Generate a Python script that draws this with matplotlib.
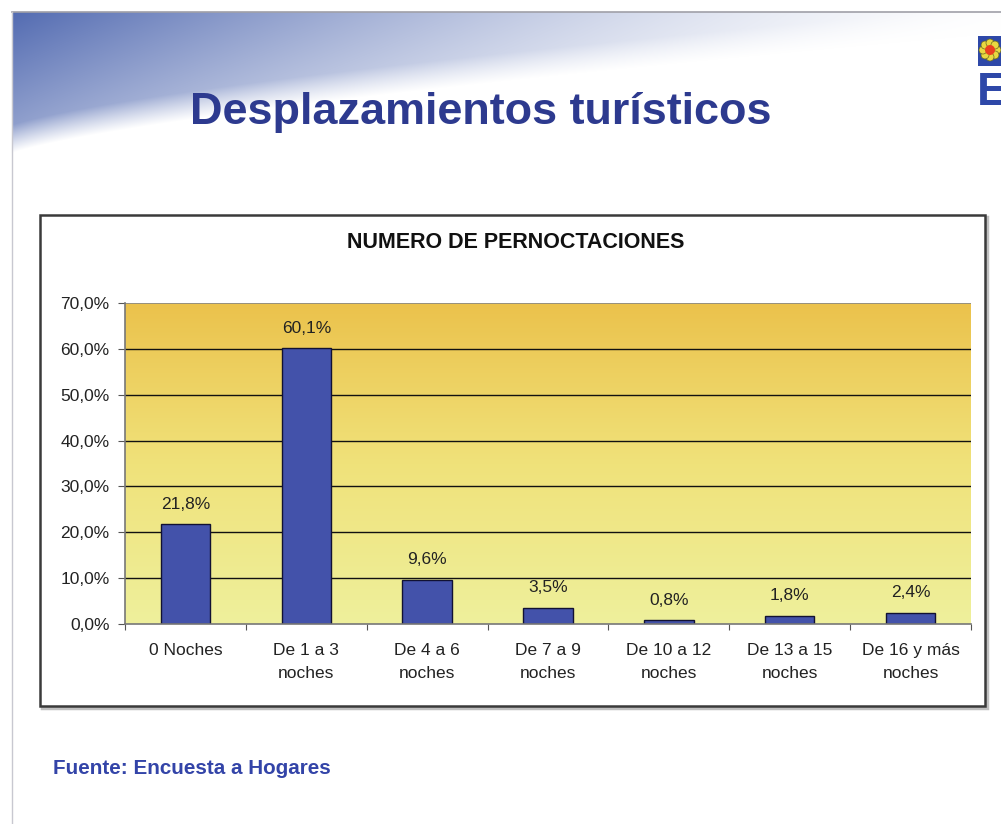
import numpy as np
import matplotlib.pyplot as plt
from matplotlib.patches import Rectangle, Circle
from matplotlib.colors import LinearSegmentedColormap
from matplotlib import font_manager

# -----------------------------------------------------------------------------
categorias = ['0 Noches', 'De 1 a 3\nnoches', 'De 4 a 6\nnoches', 'De 7 a 9\nnoches',
              'De 10 a 12\nnoches', 'De 13 a 15\nnoches', 'De 16 y más\nnoches']
porcentajes = [21.8, 60.1, 9.6, 3.5, 0.8, 1.8, 2.4]
ticks_y = [0, 10, 20, 30, 40, 50, 60, 70]

W, H = 1001, 824
AZUL = '#2d3a8f'
plt.rcParams['font.family'] = ['Liberation Sans', 'DejaVu Sans']


def fuente_estrecha():
    # use a narrow face for the heading when one is installed
    try:
        font_manager.findfont(font_manager.FontProperties(family='Liberation Sans Narrow'),
                              fallback_to_default=False)
        return ['Liberation Sans Narrow', 'Liberation Sans']
    except Exception:
        return ['Liberation Sans']


fig = plt.figure(figsize=(W / 100, H / 100), dpi=100)
fig.patch.set_facecolor('white')


def px_axes(left, top, right, bottom, **kw):
    # axes placed with pixel coordinates measured from the top-left corner
    return fig.add_axes([left / W, 1 - bottom / H, (right - left) / W, (bottom - top) / H], **kw)


def ajustar_ancho(txt, ancho):
    # scale the font size so the text spans the given width in pixels
    r = fig.canvas.get_renderer()
    w = txt.get_window_extent(renderer=r).width
    txt.set_fontsize(txt.get_fontsize() * ancho / w)


# fondo de la diapositiva: barrido azul arriba a la izquierda
bg = px_axes(0, 0, W, H)
bg.set_xlim(0, W)
bg.set_ylim(H, 0)
bg.axis('off')

xx, yy = np.meshgrid(np.arange(W), np.arange(200))
borde = 158 - 125 * (xx / W) ** 0.7
alfa = np.clip((borde - yy) / 28.0, 0, 1) * np.clip(1 - xx / 1050, 0, 1) ** 1.5
alfa = alfa * np.clip(0.55 + 0.45 * (1 - yy / borde), 0, 1)
azul = np.array([0.29, 0.39, 0.68])
img = np.ones((200, W, 3)) * (1 - alfa[..., None]) + azul * alfa[..., None]
img[:12, :, :] = 1
img[:, :12, :] = 1
bg.imshow(img, extent=(0, W, 200, 0), aspect='auto', zorder=0)
bg.plot([12, W], [12, 12], color='#a0a0a8', lw=1.2, zorder=1)
bg.plot([12, 12], [12, H], color='#c8c8d0', lw=1.0, zorder=1)

# titulo principal
titulo = bg.text(190, 124, 'Desplazamientos turísticos', fontsize=36, fontweight='bold',
                 family=fuente_estrecha(), color=AZUL, ha='left', va='baseline', zorder=3)
ajustar_ancho(titulo, 582)

# logotipo (parcial, cortado por el borde derecho)
bg.add_patch(Rectangle((978, 36), 30, 30, facecolor='#2e48a8', edgecolor='none', zorder=3))
for ang in np.linspace(0, 2 * np.pi, 8, endpoint=False):
    bg.add_patch(Circle((990 + 7 * np.cos(ang), 50 + 7 * np.sin(ang)), 4,
                        facecolor='#e8d840', edgecolor='#6a6a20', lw=0.5, zorder=4))
bg.add_patch(Circle((990, 50), 5, facecolor='#e84020', edgecolor='none', zorder=5))
bg.text(977, 105, 'E', fontsize=34, fontweight='bold', color='#2e48a8', ha='left', va='baseline',
        zorder=3)

# recuadro del grafico
bg.add_patch(Rectangle((42, 217), 945, 491, facecolor='none', edgecolor='#c0c0c0', lw=2.5, zorder=2))
bg.add_patch(Rectangle((40, 215), 945, 491, facecolor='white', edgecolor='#3a3a3a', lw=1.8, zorder=2))
sub = bg.text(347, 242, 'NUMERO DE PERNOCTACIONES', fontsize=13, fontweight='bold',
              ha='left', va='center', color='#111111', zorder=3)
ajustar_ancho(sub, 340)

fuente = bg.text(53, 768, 'Fuente: Encuesta a Hogares', fontsize=13, fontweight='bold',
                 color='#3344a8', ha='left', va='center', zorder=3)
ajustar_ancho(fuente, 277)

# area de trazado
ax = px_axes(125, 303, 971, 624)
n = len(categorias)
x = np.arange(n)
ax.set_xlim(-0.5, n - 0.5)
ax.set_ylim(0, 70)

grad = LinearSegmentedColormap.from_list('fondo', ['#eef09c', '#f0e27a', '#ebc24c'])
ax.imshow(np.linspace(0, 1, 256)[:, None], cmap=grad, origin='lower', aspect='auto',
          extent=(-0.5, n - 0.5, 0, 70), zorder=0)

for t in ticks_y[1:-1]:
    ax.axhline(t, color='#111111', lw=1.0, zorder=1)
ax.axhline(70, color='#888888', lw=1.2, zorder=1)

ax.bar(x, porcentajes, width=0.41, color='#4352aa', edgecolor='#111133', lw=1.0, zorder=2)
for xi, v in zip(x, porcentajes):
    ax.annotate(f'{v:.1f}%'.replace('.', ','), (xi, v), xytext=(0, 9), textcoords='offset points',
                ha='center', va='bottom', fontsize=12.5, color='#222222')

ax.set_yticks(ticks_y)
ax.set_yticklabels([f'{t:.1f}%'.replace('.', ',') for t in ticks_y], fontsize=12.5, color='#222222')
ax.set_xticks(np.arange(n + 1) - 0.5, minor=False)
ax.set_xticklabels([])
ax.set_xticks(x, minor=True)
ax.set_xticklabels(categorias, minor=True, fontsize=12.5, color='#222222', linespacing=1.65)
ax.tick_params(axis='x', which='minor', length=0, pad=14)
ax.tick_params(axis='x', which='major', length=4, color='#555555', direction='out')
ax.tick_params(axis='y', length=5, color='#555555', pad=6)

for s in ['top', 'right']:
    ax.spines[s].set_visible(False)
ax.spines['left'].set_color('#777777')
ax.spines['bottom'].set_color('#777777')
ax.spines['left'].set_linewidth(1.2)
ax.spines['bottom'].set_linewidth(1.2)
ax.set_zorder(3)

fig.savefig('out.png', dpi=100)
